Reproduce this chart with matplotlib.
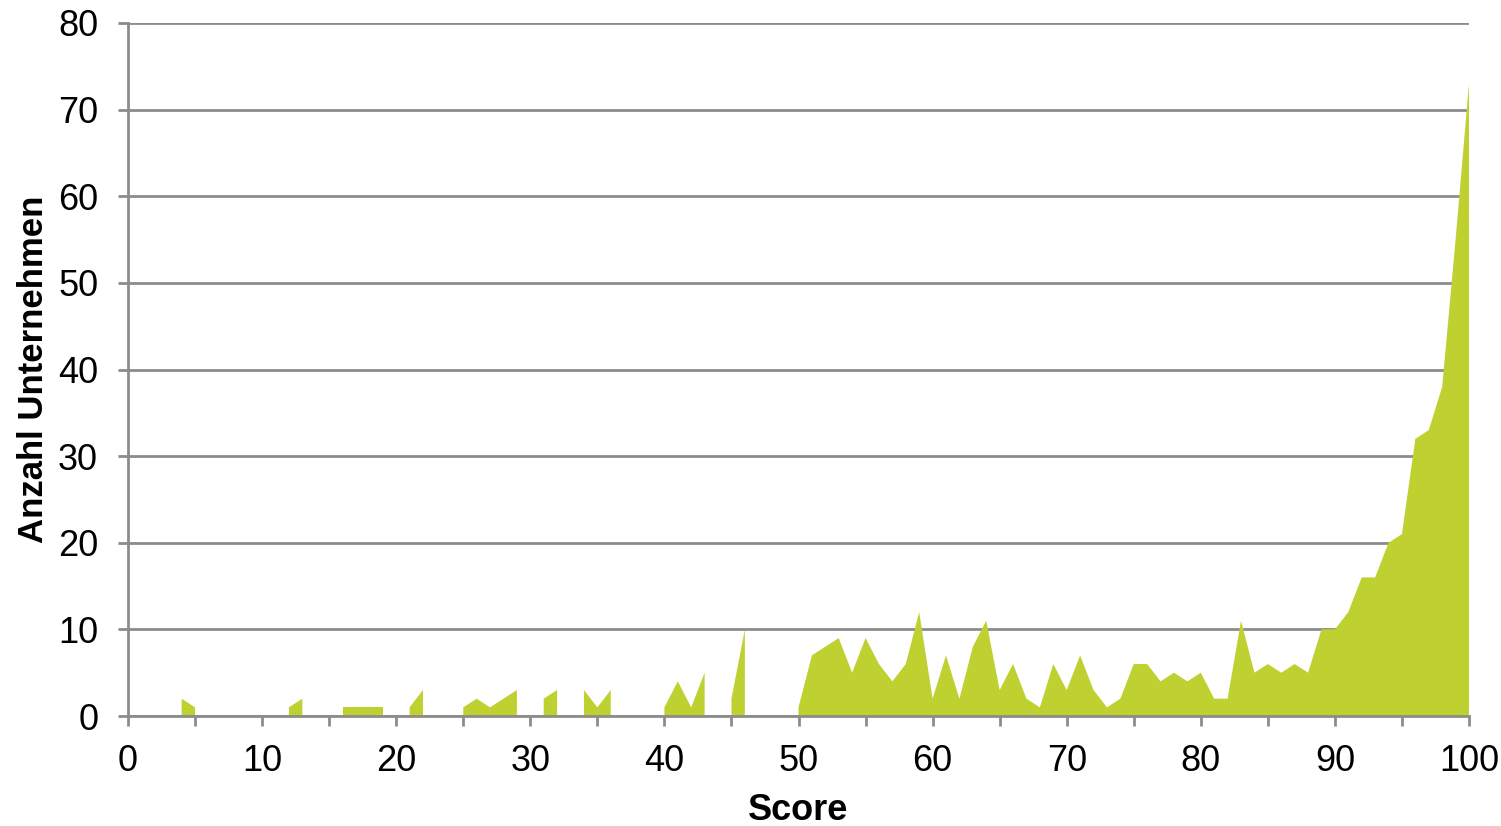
import numpy as np
import matplotlib
matplotlib.use("Agg")
import matplotlib.pyplot as plt
from matplotlib.ticker import MultipleLocator

# Number of companies per score (None = no company with that score)
scores = list(range(0, 101))
counts = [
    None, None, None, None, 2, 1, None, None, None, None,      # 0-9
    None, None, 1, 2, None, None, 1, 1, 1, 1,                  # 10-19
    None, 1, 3, None, None, 1, 2, 1, 2, 3,                     # 20-29
    None, 2, 3, None, 3, 1, 3, None, None, None,               # 30-39
    1, 4, 1, 5, None, 2, 10, None, None, None,                 # 40-49
    1, 7, 8, 9, 5, 9, 6, 4, 6, 12,                             # 50-59
    2, 7, 2, 8, 11, 3, 6, 2, 1, 6,                             # 60-69
    3, 7, 3, 1, 2, 6, 6, 4, 5, 4,                              # 70-79
    5, 2, 2, 11, 5, 6, 5, 6, 5, 10,                            # 80-89
    10, 12, 16, 16, 20, 21, 32, 33, 38, 55,                    # 90-99
    73,                                                        # 100
]
x_ticks = list(range(0, 101, 10))
y_ticks = list(range(0, 81, 10))
x_label = "Score"
y_label = "Anzahl Unternehmen"

plt.rcParams["font.family"] = ["Liberation Sans", "DejaVu Sans"]

fill_color = "#bfd131"
axis_gray = "#8c8c8c"

fig = plt.figure(figsize=(15.01, 8.26), dpi=100)
ax = fig.add_axes([128 / 1501, 110 / 826, (1469 - 128) / 1501, (716 - 23) / 826])

y = np.array([np.nan if c is None else c for c in counts], dtype=float)
ax.fill_between(scores, 0, y, color=fill_color, linewidth=0, zorder=2)

ax.set_xlim(0, 100)
ax.set_ylim(0, 80)
ax.set_xticks(x_ticks)
ax.xaxis.set_minor_locator(MultipleLocator(5))
ax.set_yticks(y_ticks)

ax.set_axisbelow(True)
ax.yaxis.grid(True, color=axis_gray, linewidth=2, zorder=0)

for side in ("top", "right"):
    ax.spines[side].set_visible(False)
for side in ("left", "bottom"):
    ax.spines[side].set_color(axis_gray)
    ax.spines[side].set_linewidth(2)
    ax.spines[side].set_zorder(3)

ax.tick_params(axis="both", which="both", direction="out", color=axis_gray,
               width=2, length=7.5, labelsize=26, labelcolor="black")
ax.tick_params(axis="x", which="major", pad=13)
ax.tick_params(axis="y", which="major", pad=14)

ax.set_xlabel(x_label, fontsize=26, fontweight="bold", labelpad=10)
ax.set_ylabel(y_label, fontsize=25, fontweight="bold", labelpad=6)

fig.savefig("out.png", dpi=100)
